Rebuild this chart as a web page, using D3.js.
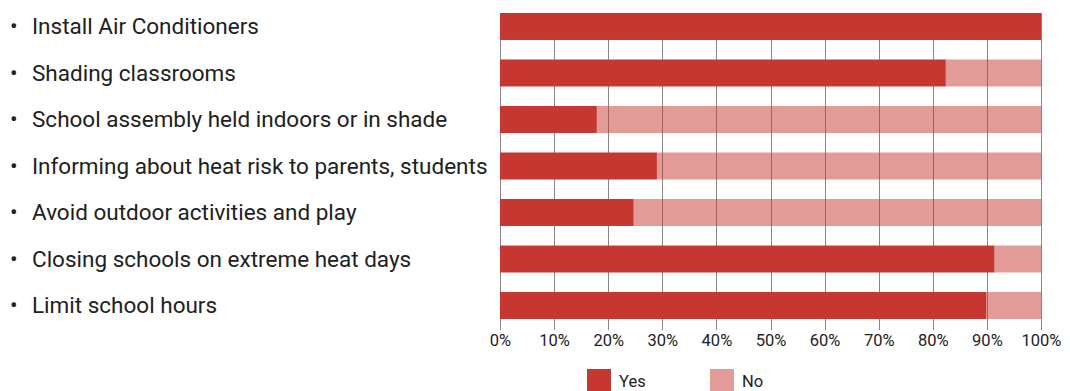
<!DOCTYPE html>
<html>
<head>
<meta charset="utf-8">
<script src="https://cdn.jsdelivr.net/npm/d3@7"></script>
<style>
  html, body { margin: 0; padding: 0; background: #fff; }
  svg { display: block; font-family: Roboto, "Noto Sans", sans-serif; }
</style>
</head>
<body>
<svg id="chart" width="1070" height="391"></svg>
<script>
// Heat-response measures and the share of schools answering Yes / No
const categories = [
  "Install Air Conditioners",
  "Shading classrooms",
  "School assembly held indoors or in shade",
  "Informing about heat risk to parents, students",
  "Avoid outdoor activities and play",
  "Closing schools on extreme heat days",
  "Limit school hours"
];
const yesValues = [100, 82.4, 17.9, 29.0, 24.7, 91.4, 89.9];
const noValues = yesValues.map(v => 100 - v);
const seriesNames = ["Yes", "No"];
const tickValues = [0, 10, 20, 30, 40, 50, 60, 70, 80, 90, 100];

const red = "#c53730";

const svg = d3.select("#chart");

const x = d3.scaleLinear().domain([0, 100]).range([500, 1041]);
const y = d3.scaleBand().domain(categories).range([13, 319]).paddingInner(0.42).paddingOuter(0);

// vertical gridlines (drawn first, so solid bars cover them)
svg.append("g")
  .selectAll("line")
  .data(tickValues)
  .join("line")
  .attr("x1", d => Math.round(x(d)) + 0.5)
  .attr("x2", d => Math.round(x(d)) + 0.5)
  .attr("y1", 13)
  .attr("y2", 330)
  .attr("stroke", "#8a8585")
  .attr("stroke-width", 1);

// Yes segments
svg.append("g")
  .selectAll("rect")
  .data(categories)
  .join("rect")
  .attr("x", x(0))
  .attr("y", d => y(d))
  .attr("width", (d, i) => x(yesValues[i]) - x(0))
  .attr("height", y.bandwidth())
  .attr("fill", red);

// No segments (semi-transparent, gridlines show through)
svg.append("g")
  .selectAll("rect")
  .data(categories)
  .join("rect")
  .attr("x", (d, i) => x(yesValues[i]))
  .attr("y", d => y(d))
  .attr("width", (d, i) => x(yesValues[i] + noValues[i]) - x(yesValues[i]))
  .attr("height", y.bandwidth())
  .attr("fill", red)
  .attr("fill-opacity", 0.5);

// category labels with bullets
const labels = svg.append("g")
  .selectAll("g")
  .data(categories)
  .join("g")
  .attr("transform", d => `translate(0,${y(d) + y.bandwidth() / 2})`);
labels.append("text")
  .attr("x", 10)
  .attr("dy", "0.35em")
  .attr("font-size", 22.5)
  .attr("fill", "#212121")
  .text("•");
labels.append("text")
  .attr("x", 32)
  .attr("dy", "0.35em")
  .attr("font-size", 22.5)
  .attr("fill", "#212121")
  .text(d => d);

// bottom axis labels
const xAxis = d3.axisBottom(x)
  .tickValues(tickValues)
  .tickFormat(d => d + "%")
  .tickSize(0)
  .tickPadding(15);
const axisG = svg.append("g")
  .attr("transform", "translate(0,319)")
  .call(xAxis);
axisG.select(".domain").remove();
axisG.selectAll("text")
  .attr("font-family", "Roboto, sans-serif")
  .attr("font-size", 16.5)
  .attr("fill", "#222");

// legend
const legendX = [587, 710];
const legend = svg.append("g")
  .selectAll("g")
  .data(seriesNames)
  .join("g")
  .attr("transform", (d, i) => `translate(${legendX[i]},369)`);
legend.append("rect")
  .attr("width", 24)
  .attr("height", 22)
  .attr("fill", red)
  .attr("fill-opacity", (d, i) => i === 0 ? 1 : 0.5);
legend.append("text")
  .attr("x", 32)
  .attr("y", 12)
  .attr("dy", "0.35em")
  .attr("font-size", 16.5)
  .attr("fill", "#222")
  .text(d => d);
</script>
</body>
</html>
